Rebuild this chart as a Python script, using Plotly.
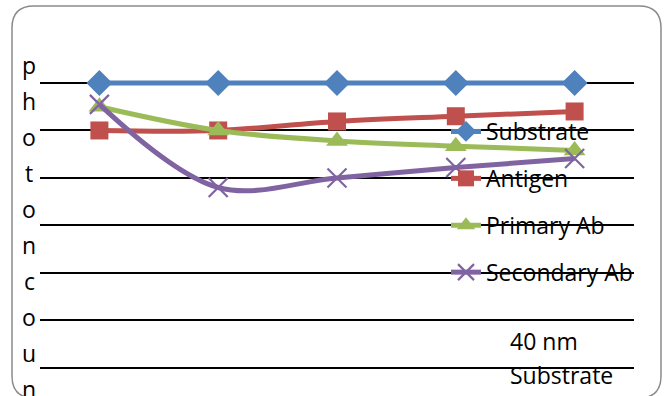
import plotly.graph_objects as go

# Measurement steps along the x axis (labels sit below the visible area)
categories = ["1", "2", "3", "4", "5"]

# Photon count per layer
substrate = [7.0, 7.0, 7.0, 7.0, 7.0]
antigen = [6.0, 6.0, 6.19, 6.3, 6.4]
primary_ab = [6.5, 6.0, 5.78, 5.67, 5.58]
secondary_ab = [6.55, 4.8, 5.0, 5.22, 5.41]

series_names = ["Substrate", "Antigen", "Primary Ab", "Secondary Ab"]
series_colors = ["#4F81BD", "#C0504D", "#9BBB59", "#8064A2"]
y_title = "photon count"
x_title_lines = ["40 nm", "Substrate"]

W, H = 665, 396
L, R, T, B = 40, 31, 35, 0
PW, PH = W - L - R, H - T - B
FONT = "Open Sans"
FS = 23


def px_x(x):
    return (x - L) / PW


def px_y(y):
    return (H - B - y) / PH


fig = go.Figure()

styles = [
    dict(symbol="diamond", size=20, line=dict(width=0)),
    dict(symbol="square", size=18, line=dict(width=0)),
    dict(symbol="triangle-up", size=19, line=dict(width=0)),
    dict(symbol="x-thin", size=19, line=dict(width=2.2, color=series_colors[3])),
]
all_values = [substrate, antigen, primary_ab, secondary_ab]

for name, vals, color, mk in zip(series_names, all_values, series_colors, styles):
    fig.add_trace(go.Scatter(
        x=categories, y=vals, name=name, mode="lines+markers",
        line=dict(color=color, width=5, shape="spline", smoothing=1),
        marker=dict(color=color, **mk),
        legendgroup=name,
    ))

annotations = []
# Stacked vertical axis title, one letter per line (letters past the
# bottom edge of the chart area are clipped away)
letters = [c for c in y_title if c != " "]
for k, ch in enumerate(letters):
    yc = 65 + 36 * k
    if yc > H + 5:
        break
    annotations.append(dict(
        text=ch, xref="paper", yref="paper",
        x=px_x(29), y=px_y(yc),
        xanchor="center", yanchor="middle", showarrow=False,
        font=dict(family=FONT, size=FS, color="#000000"),
    ))

# Category axis title
for k, line in enumerate(x_title_lines):
    annotations.append(dict(
        text=line, xref="paper", yref="paper",
        x=px_x(508), y=px_y(341 + 34 * k),
        xanchor="left", yanchor="middle", showarrow=False,
        font=dict(family=FONT, size=FS, color="#000000"),
    ))

# Rounded chart-area border
x0, x1, y0, y1, r = px_x(12), px_x(661), px_y(6), px_y(398), 22
rx, ry = r / PW, r / PH
path = (
    f"M {x0 + rx},{y0} L {x1 - rx},{y0} Q {x1},{y0} {x1},{y0 - ry} "
    f"L {x1},{y1 + ry} Q {x1},{y1} {x1 - rx},{y1} "
    f"L {x0 + rx},{y1} Q {x0},{y1} {x0},{y1 + ry} "
    f"L {x0},{y0 - ry} Q {x0},{y0} {x0 + rx},{y0} Z"
)
shapes = [dict(type="path", path=path, xref="paper", yref="paper",
               line=dict(color="#8A8A8A", width=1.5), layer="below")]

fig.update_layout(
    width=W, height=H,
    margin=dict(l=L, r=R, t=T, b=B),
    paper_bgcolor="white", plot_bgcolor="rgba(0,0,0,0)",
    font=dict(family=FONT, size=FS, color="#000000"),
    showlegend=True,
    legend=dict(
        x=px_x(446), y=px_y(110), xanchor="left", yanchor="top",
        bgcolor="rgba(0,0,0,0)", borderwidth=0,
        font=dict(family=FONT, size=FS, color="#000000"),
        tracegroupgap=14, itemwidth=30,
    ),
    xaxis=dict(
        type="category", range=[-0.5, 4.5], showgrid=False,
        showticklabels=False, ticks="", showline=False, zeroline=False,
    ),
    yaxis=dict(
        range=[0.41, 8.01], dtick=1, tick0=0, showgrid=True,
        gridcolor="#000000", gridwidth=1.5, showticklabels=False,
        ticks="", showline=False, zeroline=False,
    ),
    annotations=annotations,
    shapes=shapes,
)

fig.write_html("out.html")
